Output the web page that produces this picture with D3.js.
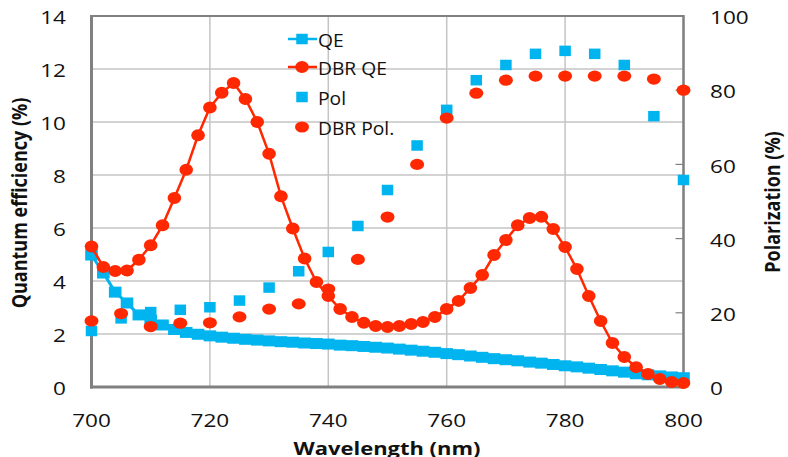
<!DOCTYPE html>
<html>
<head>
<meta charset="utf-8">
<script src="https://cdn.jsdelivr.net/npm/d3@7"></script>
<style>
  html, body { margin: 0; padding: 0; background: #ffffff; }
  svg { display: block; }
  text { font-family: "Open Sans", "DejaVu Sans", sans-serif; fill: #111; }
</style>
</head>
<body>
<svg id="chart" width="788" height="457"></svg>
<script>
// ---------- data ----------
const wavelengthDense = [700,702,704,706,708,710,712,714,716,718,720,722,724,726,728,730,732,734,736,738,740,742,744,746,748,750,752,754,756,758,760,762,764,766,768,770,772,774,776,778,780,782,784,786,788,790,792,794,796,798,800];
const qeValues = [4.98,4.30,3.58,3.17,2.72,2.52,2.34,2.17,2.06,1.99,1.93,1.88,1.84,1.80,1.77,1.74,1.71,1.69,1.66,1.64,1.62,1.58,1.56,1.53,1.50,1.47,1.43,1.39,1.35,1.31,1.26,1.22,1.17,1.12,1.07,1.03,0.99,0.94,0.90,0.85,0.80,0.76,0.71,0.66,0.61,0.56,0.50,0.46,0.42,0.38,0.35];
const dbrQeValues = [5.30,4.53,4.38,4.40,4.80,5.35,6.10,7.13,8.20,9.50,10.55,11.10,11.47,10.87,10.00,8.80,7.20,5.98,4.85,3.96,3.43,2.94,2.64,2.42,2.30,2.26,2.30,2.38,2.45,2.64,2.94,3.25,3.74,4.23,4.98,5.55,6.10,6.38,6.42,5.96,5.28,4.45,3.43,2.49,1.66,1.13,0.75,0.49,0.30,0.19,0.15];
const wavelengthPol = [700,705,710,715,720,725,730,735,740,745,750,755,760,765,770,775,780,785,790,795,800];
const polValues = [15.1,18.5,20.2,20.8,21.5,23.3,26.8,31.2,36.4,43.4,53.1,65.1,74.7,82.7,86.8,89.8,90.6,89.8,86.8,73.0,55.8];
const dbrPolValues = [17.8,19.8,16.3,17.2,17.3,18.9,21.0,22.4,26.4,34.4,45.8,60.0,72.5,79.2,82.7,83.8,83.8,83.8,83.8,83.0,80.0];
const xTicks = [700,720,740,760,780,800];
const leftTicks = [0,2,4,6,8,10,12,14];
const rightTicks = [0,20,40,60,80,100];
const legendLabels = ["QE","DBR QE","Pol","DBR Pol."];
const seriesNames = { xTitle: "Wavelength (nm)", leftTitle: "Quantum efficiency (%)", rightTitle: "Polarization (%)" };

// ---------- layout ----------
const BLUE = "#00b4ef";
const RED = "#ff2800";
const GRID = "#c4c4c4";
const FRAME = "#808080";
const SX = 1.22; // horizontal stretch of glyphs seen in reference

const svg = d3.select("#chart");
const x = d3.scaleLinear().domain([700, 800]).range([91.5, 683.5]);
const yL = d3.scaleLinear().domain([0, 14]).range([387, 16]);
const yR = d3.scaleLinear().domain([0, 100]).range([387, 16]);

// gridlines
const grid = svg.append("g");
grid.selectAll("line.h").data(leftTicks).join("line")
  .attr("x1", x(700)).attr("x2", x(800))
  .attr("y1", d => yL(d)).attr("y2", d => yL(d))
  .attr("stroke", GRID).attr("stroke-width", 1.5);
grid.selectAll("line.v").data(xTicks).join("line")
  .attr("y1", yL(0)).attr("y2", yL(14))
  .attr("x1", d => x(d)).attr("x2", d => x(d))
  .attr("stroke", GRID).attr("stroke-width", 1.5);

// right axis inner ticks
svg.append("g").selectAll("line").data(rightTicks).join("line")
  .attr("x1", x(800) - 8).attr("x2", x(800))
  .attr("y1", d => yR(d)).attr("y2", d => yR(d))
  .attr("stroke", FRAME).attr("stroke-width", 1.2);

// frame
svg.append("line").attr("x1", x(700)).attr("x2", x(800)).attr("y1", yL(14)).attr("y2", yL(14)).attr("stroke", FRAME).attr("stroke-width", 2);
svg.append("line").attr("x1", x(800)).attr("x2", x(800)).attr("y1", yL(14) - 1).attr("y2", yL(0) + 1.5).attr("stroke", FRAME).attr("stroke-width", 2.5);
svg.append("line").attr("x1", x(700)).attr("x2", x(700)).attr("y1", yL(14) - 1).attr("y2", yL(0) + 1.5).attr("stroke", FRAME).attr("stroke-width", 3);
svg.append("line").attr("x1", x(700) - 1.5).attr("x2", x(800) + 1.2).attr("y1", yL(0)).attr("y2", yL(0)).attr("stroke", FRAME).attr("stroke-width", 3);

// tick labels
function stretchedText(g, tx, ty, str, opts = {}) {
  const sx = opts.sx || SX;
  const t = g.append("text")
    .attr("transform", `translate(${tx},${ty}) scale(${sx},1)` + (opts.rotate ? ` rotate(${opts.rotate})` : ""))
    .attr("text-anchor", opts.anchor || "middle")
    .attr("dominant-baseline", "central")
    .style("font-size", (opts.size || 18.5) + "px")
    .style("font-weight", opts.weight || "normal")
    .text(str);
  return t;
}
const labels = svg.append("g");
leftTicks.forEach(d => stretchedText(labels, 66, yL(d) + 1, d, { anchor: "end" }));
xTicks.forEach(d => stretchedText(labels, x(d), 420, d, { anchor: "middle" }));
rightTicks.forEach(d => stretchedText(labels, 710, yR(d) + 1, d, { anchor: "start" }));

// axis titles
stretchedText(labels, 19, 203, seriesNames.leftTitle, { rotate: -90, weight: "bold", size: 18 });
stretchedText(labels, 772, 202, seriesNames.rightTitle, { rotate: -90, weight: "bold", size: 18 });
stretchedText(labels, 387, 448, seriesNames.xTitle, { weight: "bold", size: 18 });

// ---------- series ----------
const qeData = wavelengthDense.map((w, i) => ({ w, v: qeValues[i] }));
const dbrQeData = wavelengthDense.map((w, i) => ({ w, v: dbrQeValues[i] }));
const polData = wavelengthPol.map((w, i) => ({ w, v: polValues[i] }));
const dbrPolData = wavelengthPol.map((w, i) => ({ w, v: dbrPolValues[i] }));

const lineL = d3.line().x(d => x(d.w)).y(d => yL(d.v));
const SQW = 11.5, SQH = 10.5;
const QEW = 12.6, QEH = 11;

// QE
svg.append("path").datum(qeData).attr("d", lineL).attr("fill", "none").attr("stroke", BLUE).attr("stroke-width", 3);
svg.append("g").selectAll("rect").data(qeData).join("rect")
  .attr("x", d => x(d.w) - QEW / 2).attr("y", d => yL(d.v) - QEH / 2)
  .attr("width", QEW).attr("height", QEH).attr("fill", BLUE);

// DBR QE
svg.append("path").datum(dbrQeData).attr("d", lineL).attr("fill", "none").attr("stroke", RED).attr("stroke-width", 2.5);
svg.append("g").selectAll("ellipse").data(dbrQeData).join("ellipse")
  .attr("cx", d => x(d.w)).attr("cy", d => yL(d.v))
  .attr("rx", 6.8).attr("ry", 6).attr("fill", RED);

// Pol
svg.append("g").selectAll("rect").data(polData).join("rect")
  .attr("x", d => x(d.w) - SQW / 2).attr("y", d => yR(d.v) - SQH / 2)
  .attr("width", SQW).attr("height", SQH).attr("fill", BLUE);

// DBR Pol
svg.append("g").selectAll("ellipse").data(dbrPolData).join("ellipse")
  .attr("cx", d => x(d.w)).attr("cy", d => yR(d.v))
  .attr("rx", 7).attr("ry", 5.6).attr("fill", RED);

// ---------- legend ----------
const legendY = [39, 67, 97, 127];
const lg = svg.append("g");
const mx = 302;
// QE
lg.append("line").attr("x1", 288).attr("x2", 317).attr("y1", legendY[0]).attr("y2", legendY[0]).attr("stroke", BLUE).attr("stroke-width", 2.5);
lg.append("rect").attr("x", mx - SQW / 2).attr("y", legendY[0] - SQH / 2).attr("width", SQW).attr("height", SQH).attr("fill", BLUE);
// DBR QE
lg.append("line").attr("x1", 288).attr("x2", 317).attr("y1", legendY[1]).attr("y2", legendY[1]).attr("stroke", RED).attr("stroke-width", 2.5);
lg.append("ellipse").attr("cx", mx).attr("cy", legendY[1]).attr("rx", 6.8).attr("ry", 6).attr("fill", RED);
// Pol
lg.append("rect").attr("x", mx - SQW / 2).attr("y", legendY[2] - SQH / 2).attr("width", SQW).attr("height", SQH).attr("fill", BLUE);
// DBR Pol
lg.append("ellipse").attr("cx", mx).attr("cy", legendY[3]).attr("rx", 7).attr("ry", 5.6).attr("fill", RED);
legendLabels.forEach((s, i) => stretchedText(lg, 318, legendY[i] + 1, s, { anchor: "start", size: 18.5, sx: 1.04 }));
</script>
</body>
</html>
